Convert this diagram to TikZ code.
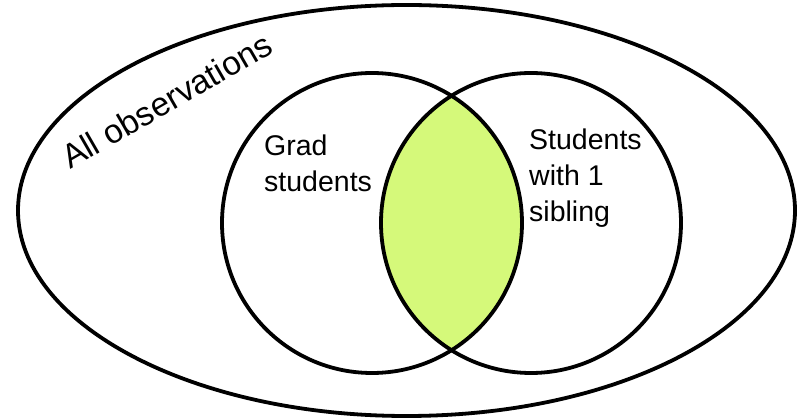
\documentclass[tikz,border=0pt]{standalone}
\usepackage{fontspec}
\setmainfont{Liberation Sans}
\usetikzlibrary{shapes.geometric}
\definecolor{lensgreen}{RGB}{213,249,122}
\begin{document}
\begin{tikzpicture}[x=1pt,y=-1pt,
  setline/.style={draw=black,line width=3.8pt,fill=none,inner sep=0pt,outer sep=0pt},
  lbl/.style={font=\fontsize{28.5pt}{36pt}\selectfont,align=left,inner sep=0pt,anchor=base west}]
\useasboundingbox (0,0) rectangle (807,419);
\begin{scope}
  \clip (372,223) circle [radius=150];
  \fill[lensgreen] (531,223) circle [radius=150];
\end{scope}
\node[setline,ellipse,minimum width=777pt,minimum height=411pt] (all) at (406.5,210.5) {};
\node[setline,circle,minimum size=300pt] (grad) at (372,223) {};
\node[setline,circle,minimum size=300pt] (sib) at (531,223) {};
\node[lbl] (gradt) at (264,192) {Grad\\students};
\node[lbl] (sibt) at (529,222) {Students\\with 1\\sibling};
\node[font=\fontsize{33.5pt}{36pt}\selectfont,inner sep=0pt,anchor=base west,rotate=30] (allt) at (70,170) {All observations};
\end{tikzpicture}
\end{document}
